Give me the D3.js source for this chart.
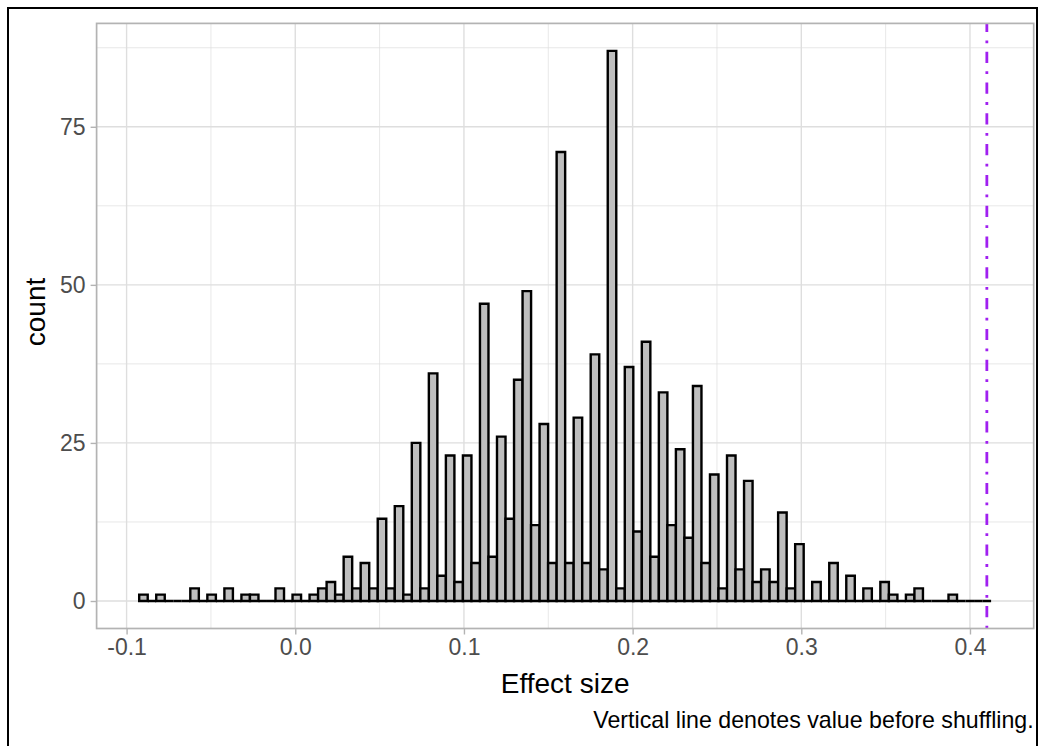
<!DOCTYPE html>
<html>
<head>
<meta charset="utf-8">
<script src="https://cdn.jsdelivr.net/npm/d3@7"></script>
<style>
  body { margin: 0; background: #fff; }
  text { font-family: "Liberation Sans", Arial, sans-serif; }
</style>
</head>
<body>
<script>
const width = 1039,
  height = 746;
const margin = { top: 23.4, right: 5.3, bottom: 117.5, left: 96.6 };

// histogram: 100 bins, centres from -0.09 to 0.41
const binCount = 100;
const binLo = -0.09,
  binHi = 0.41;
const counts = [
  1, 0, 1, 0, 0, 0, 2, 0, 1, 0,
  2, 0, 1, 1, 0, 0, 2, 0, 1, 0,
  1, 2, 3, 1, 7, 2, 6, 2, 13, 2,
  15, 1, 25, 2, 36, 4, 23, 3, 23, 6,
  47, 7, 26, 13, 35, 49, 12, 28, 6, 71,
  6, 29, 6, 39, 5, 87, 2, 37, 11, 41,
  7, 33, 12, 24, 10, 34, 6, 20, 2, 23,
  5, 19, 3, 5, 3, 14, 2, 9, 0, 3,
  0, 6, 0, 4, 0, 2, 0, 3, 1, 0,
  1, 2, 0, 0, 0, 1, 0, 0, 0, 0
];
const observed = 0.41; // value before shuffling

const xTicks = [-0.1, 0.0, 0.1, 0.2, 0.3, 0.4];
const xMinor = [-0.05, 0.05, 0.15, 0.25, 0.35];
const yTicks = [0, 25, 50, 75];
const yMinor = [12.5, 37.5, 62.5, 87.5];

const binW = (binHi - binLo) / (binCount - 1);
const bins = counts.map((c, i) => ({
  x0: binLo + i * binW - binW / 2,
  x1: binLo + i * binW + binW / 2,
  n: c
}));

// ggplot style 5% expansion
const xmin = d3.min(bins, d => d.x0),
  xmax = d3.max([d3.max(bins, d => d.x1), observed]);
const xpad = (xmax - xmin) * 0.05;
const ymax = d3.max(counts);

const x = d3
  .scaleLinear()
  .domain([xmin - xpad, xmax + xpad])
  .range([margin.left, width - margin.right]);

const y = d3
  .scaleLinear()
  .domain([-ymax * 0.05, ymax * 1.05])
  .range([height - margin.bottom, margin.top]);

const svg = d3
  .select("body")
  .append("svg")
  .attr("width", width)
  .attr("height", height);

// outer frame
svg
  .append("rect")
  .attr("x", 8)
  .attr("y", 8)
  .attr("width", 1029)
  .attr("height", 760)
  .attr("fill", "none")
  .attr("stroke", "#000")
  .attr("stroke-width", 2);

const grid = svg.append("g");
const [px0, px1] = x.range();
const [py0, py1] = y.range();

grid
  .selectAll(".xminor")
  .data(xMinor)
  .enter()
  .append("line")
  .attr("x1", d => x(d))
  .attr("x2", d => x(d))
  .attr("y1", py0)
  .attr("y2", py1)
  .attr("stroke", "#dedede")
  .attr("stroke-width", 0.7);

grid
  .selectAll(".yminor")
  .data(yMinor)
  .enter()
  .append("line")
  .attr("x1", px0)
  .attr("x2", px1)
  .attr("y1", d => y(d))
  .attr("y2", d => y(d))
  .attr("stroke", "#dedede")
  .attr("stroke-width", 0.7);

grid
  .selectAll(".xmajor")
  .data(xTicks)
  .enter()
  .append("line")
  .attr("x1", d => x(d))
  .attr("x2", d => x(d))
  .attr("y1", py0)
  .attr("y2", py1)
  .attr("stroke", "#dedede")
  .attr("stroke-width", 1.4);

grid
  .selectAll(".ymajor")
  .data(yTicks)
  .enter()
  .append("line")
  .attr("x1", px0)
  .attr("x2", px1)
  .attr("y1", d => y(d))
  .attr("y2", d => y(d))
  .attr("stroke", "#dedede")
  .attr("stroke-width", 1.4);

// bars (paths so that empty bins still show as a flat line)
svg
  .append("g")
  .selectAll("path")
  .data(bins)
  .enter()
  .append("path")
  .attr("d", d => {
    const a = x(d.x0),
      b = x(d.x1),
      y0 = y(0),
      y1 = y(d.n);
    return `M${a},${y0}V${y1}H${b}V${y0}Z`;
  })
  .attr("fill", "#bebebe")
  .attr("stroke", "#000")
  .attr("stroke-width", 2.4)
  .attr("stroke-linejoin", "miter");

// dot-dash vertical line, drawn bottom to top
svg
  .append("line")
  .attr("x1", x(observed))
  .attr("x2", x(observed))
  .attr("y1", py0)
  .attr("y2", py1)
  .attr("stroke", "#a020f0")
  .attr("stroke-width", 2.8)
  .attr("stroke-dasharray", "2.8,8.4,11.2,8.4");

// panel border
svg
  .append("rect")
  .attr("x", px0)
  .attr("y", py1)
  .attr("width", px1 - px0)
  .attr("height", py0 - py1)
  .attr("fill", "none")
  .attr("stroke", "#b3b3b3")
  .attr("stroke-width", 1.7);

// axes
const xAxis = d3
  .axisBottom(x)
  .tickValues(xTicks)
  .tickFormat(d => d.toFixed(1))
  .tickSize(6)
  .tickPadding(4);

const gx = svg
  .append("g")
  .attr("transform", `translate(0,${py0})`)
  .call(xAxis);

const yAxis = d3
  .axisLeft(y)
  .tickValues(yTicks)
  .tickSize(6)
  .tickPadding(5);

const gy = svg
  .append("g")
  .attr("transform", `translate(${px0},0)`)
  .call(yAxis);

[gx, gy].forEach(g => {
  g.select(".domain").remove();
  g.selectAll(".tick line")
    .attr("stroke", "#b3b3b3")
    .attr("stroke-width", 1.4);
  g.selectAll(".tick text")
    .attr("fill", "#4d4d4d")
    .style("font-size", "23px")
    .style("font-family", '"Liberation Sans", Arial, sans-serif');
});
gx.selectAll(".tick text").attr("dy", "0.71em");

// titles
svg
  .append("text")
  .attr("x", (px0 + px1) / 2)
  .attr("y", 693)
  .attr("text-anchor", "middle")
  .style("font-size", "28px")
  .attr("fill", "#000")
  .text("Effect size");

svg
  .append("text")
  .attr("transform", `translate(45,312) rotate(-90)`)
  .attr("text-anchor", "middle")
  .style("font-size", "28px")
  .attr("fill", "#000")
  .text("count");

svg
  .append("text")
  .attr("x", px1)
  .attr("y", 728)
  .attr("text-anchor", "end")
  .style("font-size", "23.2px")
  .attr("fill", "#000")
  .text("Vertical line denotes value before shuffling.");
</script>
</body>
</html>
